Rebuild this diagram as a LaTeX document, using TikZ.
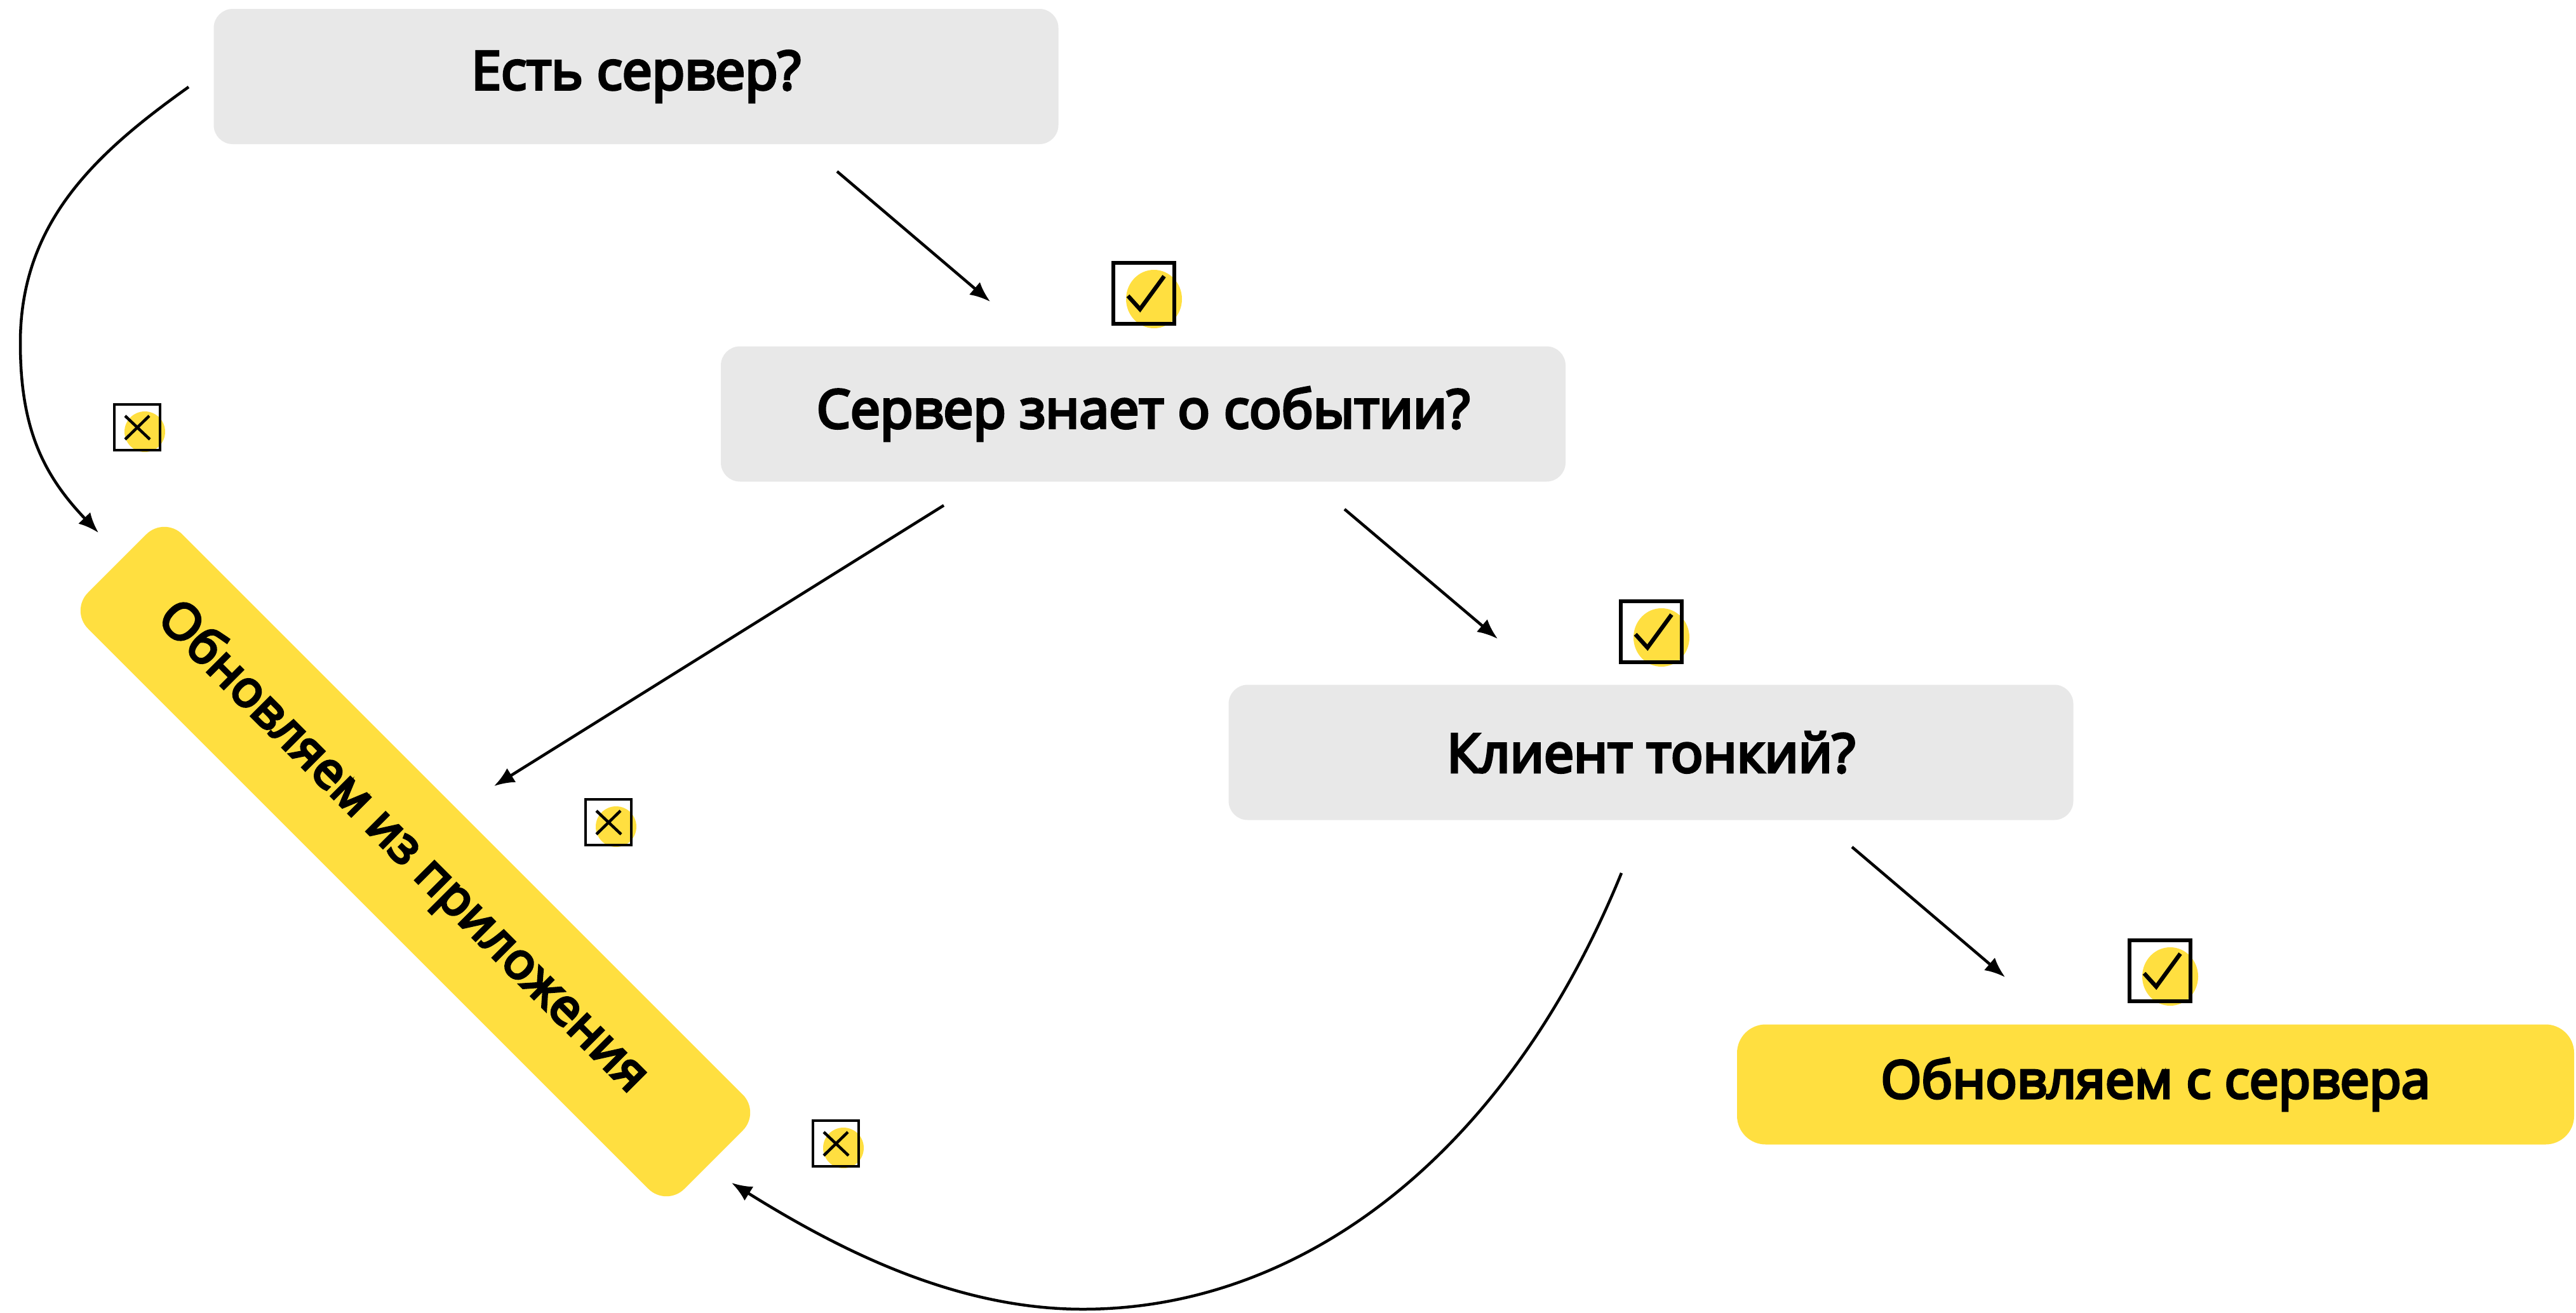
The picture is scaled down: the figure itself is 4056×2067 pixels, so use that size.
\documentclass[tikz,border=0pt]{standalone}
\usepackage{fontspec}
\setmainfont{Open Sans}[FakeBold=5]
\usetikzlibrary{arrows.meta}
\definecolor{boxgray}{HTML}{E8E8E8}
\definecolor{ylw}{HTML}{FFDF40}
\tikzset{
  question/.style={fill=boxgray, rounded corners=30pt, minimum width=1330pt, minimum height=213pt, inner sep=0pt, font=\fontsize{84}{100}\selectfont},
  answer/.style={fill=ylw, rounded corners=45pt, minimum width=1318pt, minimum height=189pt, inner sep=0pt, font=\fontsize{82}{100}\selectfont},
  conn/.style={line width=4.5pt, -{Latex[length=32pt,width=26pt]}},
  checkicon/.pic={
    \fill[ylw] (16,9) ellipse[x radius=44, y radius=46];
    \draw[line width=6.5pt] (-48,-48) rectangle (48,48);
    \draw[line width=6.5pt, line join=miter] (-25,4) -- (-6,25) -- (32,-27);
  },
  crossicon/.pic={
    \fill[ylw] (12,7) circle[radius=32];
    \draw[line width=4.5pt] (-36,-36) rectangle (36,36);
    \draw[line width=4.5pt] (-19,-18) -- (20,19) (-19,19) -- (19,-18);
  }
}
\begin{document}
\begin{tikzpicture}[x=1pt,y=-1pt]
\useasboundingbox (0,0) rectangle (4056,2067);
\fill[white] (0,0) rectangle (4056,2067);
% boxes
\node[question] (q1) at (1001.5,120.5) {Есть сервер?};
\node[question] (q2) at (1800,652) {Сервер знает о событии?};
\node[question] (q3) at (2599.5,1185) {Клиент тонкий?};
\node[answer] (srv) at (3394,1708) {Обновляем с сервера};
\node[answer, rotate=-45, minimum width=1328pt, minimum height=210pt, rounded corners=40pt, font=\fontsize{79}{100}\selectfont] (app) at (654,1357) {\hspace*{-60pt}Обновляем из приложения};
% connector end points
\coordinate (a1s) at (297,137);
\coordinate (a1m) at (32,540);
\coordinate (a1e) at (155,839);
\coordinate (a2s) at (1318,270);
\coordinate (a2e) at (1559,475);
\coordinate (a3s) at (1486,796);
\coordinate (a3e) at (778,1238);
\coordinate (a4s) at (2117,802);
\coordinate (a4e) at (2358,1006);
\coordinate (a5s) at (2916,1334);
\coordinate (a5e) at (3157,1539);
\coordinate (a6s) at (2553,1375);
\coordinate (a6m) at (1705,2062);
\coordinate (a6e) at (1152,1863);
% connectors
\draw[conn] (a1s) .. controls (151,241) and (32,350) .. (a1m) .. controls (32,670) and (65,745) .. (a1e);
\draw[conn] (a2s) -- (a2e);
\draw[conn] (a3s) -- (a3e);
\draw[conn] (a4s) -- (a4e);
\draw[conn] (a5s) -- (a5e);
\draw[conn] (a6s) .. controls (2372,1819) and (2050,2062) .. (a6m) .. controls (1505,2062) and (1322,1969) .. (a6e);
% icons
\pic at (1801,462) {checkicon};
\pic at (2600,995) {checkicon};
\pic at (3401,1529) {checkicon};
\pic at (216,673) {crossicon};
\pic at (958,1295) {crossicon};
\pic at (1316,1801) {crossicon};
\end{tikzpicture}
\end{document}
